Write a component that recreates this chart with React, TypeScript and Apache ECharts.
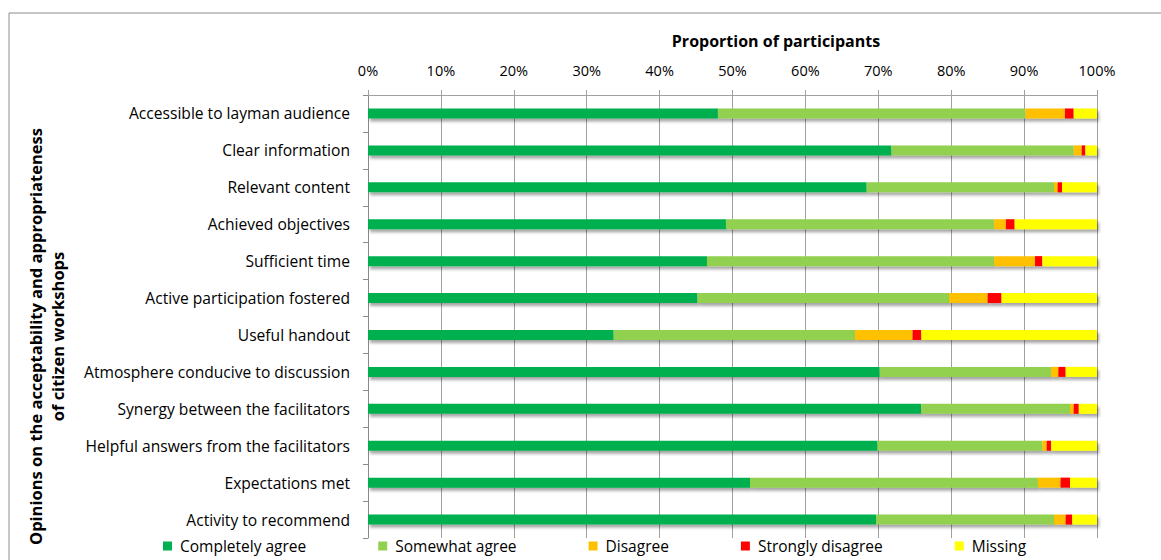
import React, { useEffect, useRef } from "react";
import * as echarts from "echarts";

const categories = [
  "Accessible to layman audience",
  "Clear information",
  "Relevant content",
  "Achieved objectives",
  "Sufficient time",
  "Active participation fostered",
  "Useful handout",
  "Atmosphere conducive to discussion",
  "Synergy between the facilitators",
  "Helpful answers from the facilitators",
  "Expectations met",
  "Activity to recommend",
];

const completelyAgree = [48.0, 71.8, 68.4, 49.1, 46.5, 45.2, 33.7, 70.2, 75.9, 69.9, 52.4, 69.7];
const somewhatAgree = [42.2, 25.0, 25.7, 36.8, 39.4, 34.5, 33.1, 23.5, 20.4, 22.6, 39.5, 24.4];
const disagree = [5.4, 1.1, 0.5, 1.6, 5.6, 5.3, 7.9, 1.0, 0.5, 0.6, 3.1, 1.6];
const stronglyDisagree = [1.2, 0.5, 0.6, 1.2, 1.0, 1.9, 1.2, 1.0, 0.7, 0.6, 1.3, 0.9];
const missing = [3.2, 1.6, 4.8, 11.3, 7.5, 13.1, 24.1, 4.3, 2.5, 6.3, 3.7, 3.4];

const seriesNames = ["Completely agree", "Somewhat agree", "Disagree", "Strongly disagree", "Missing"];
const seriesColors = ["#00B050", "#92D050", "#FFC000", "#FF0000", "#FFFF00"];
const seriesData = [completelyAgree, somewhatAgree, disagree, stronglyDisagree, missing];

const FONT = "Open Sans";

export default function App() {
  const ref = useRef<HTMLDivElement>(null);

  useEffect(() => {
    if (!ref.current) return;
    const chart = echarts.init(ref.current, null, { renderer: "svg" });
    chart.setOption({
      animation: false,
      textStyle: { fontFamily: FONT },
      grid: { left: 368, right: 64, top: 95, bottom: 22, containLabel: false },
      xAxis: {
        type: "value",
        position: "top",
        min: 0,
        max: 100,
        interval: 10,
        name: "Proportion of participants",
        nameLocation: "middle",
        nameGap: 46,
        nameTextStyle: {
          fontFamily: FONT,
          fontSize: 16,
          fontWeight: "bold",
          color: "#000",
          padding: [0, 0, 0, 87],
        },
        axisLine: { show: true, lineStyle: { color: "#a0a0a0", width: 1 } },
        axisTick: { show: true, length: 5, lineStyle: { color: "#a0a0a0" } },
        axisLabel: { formatter: "{value}%", color: "#000", fontSize: 14.5, fontFamily: FONT, margin: 17 },
        splitLine: { show: true, lineStyle: { color: "#a0a0a0", width: 1 } },
      },
      yAxis: {
        type: "category",
        data: categories,
        inverse: true,
        name: "Opinions on the acceptability and appropriateness\nof citizen workshops",
        nameLocation: "middle",
        nameRotate: 90,
        nameGap: 300,
        nameTextStyle: {
          fontFamily: FONT,
          fontSize: 16.5,
          fontWeight: "bold",
          color: "#000",
          lineHeight: 22,
          padding: [0, 40, 0, 0],
        },
        axisLine: { show: true, lineStyle: { color: "#8a8a8a" } },
        axisTick: { show: true, length: 5, lineStyle: { color: "#8a8a8a" } },
        axisLabel: { color: "#000", fontSize: 15.6, fontFamily: FONT, margin: 18 },
        splitLine: { show: false },
      },
      legend: {
        data: seriesNames,
        left: 158,
        bottom: 1,
        icon: "rect",
        itemWidth: 9,
        itemHeight: 9,
        itemGap: 72,
        textStyle: { fontFamily: FONT, fontSize: 15.5, color: "#000", padding: [0, 0, 0, 3] },
      },
      graphic: [
        {
          type: "rect",
          shape: { x: 9, y: 13, width: 1200, height: 600 },
          style: { fill: "none", stroke: "#8c8c8c", lineWidth: 1 },
          silent: true,
          z: -10,
        },
      ],
      series: seriesNames.map((name, i) => ({
        name,
        type: "bar",
        stack: "total",
        barWidth: 10,
        data: seriesData[i],
        itemStyle: {
          color: seriesColors[i],
          shadowColor: "rgba(0,0,0,0.35)",
          shadowBlur: 3,
          shadowOffsetX: 2,
          shadowOffsetY: 3,
        },
      })),
    });
    return () => chart.dispose();
  }, []);

  return (
    <div
      ref={ref}
      style={{ position: "fixed", left: 0, top: 0, width: 1161, height: 560, background: "#fff" }}
    />
  );
}
